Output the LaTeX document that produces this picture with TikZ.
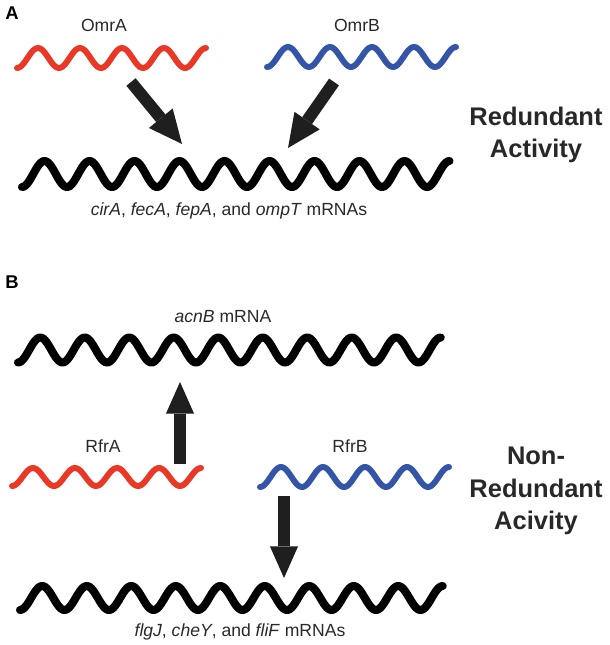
\documentclass[tikz,border=0pt]{standalone}
\usepackage{fontspec}
\setmainfont{Liberation Sans}
\usepackage{tikz}
\usetikzlibrary{arrows.meta, positioning}
\definecolor{srnaRed}{RGB}{234,56,38}
\definecolor{srnaBlue}{RGB}{52,84,168}
\definecolor{labelGray}{RGB}{40,40,40}

\begin{document}
\begin{tikzpicture}[x=0.02cm, y=-0.02cm,
  srna/.style={line width=3.4pt, line cap=round, line join=round},
  mrna/.style={line width=4.6pt, line cap=round, line join=round, black},
  bigarrow/.style={line width=6.8pt, draw=black!88, -{Triangle[length=18pt, width=16pt, line width=0pt]}},
  panel/.style={font=\fontsize{10.5}{12}\selectfont\bfseries, anchor=base},
  rnalabel/.style={font=\fontsize{10}{12}\selectfont, text=labelGray, anchor=base},
  activity/.style={font=\fontsize{14.5}{18.5}\selectfont\bfseries, text=labelGray, align=center}]
\useasboundingbox (0,0) rectangle (609,645);

% Panel A
\node[panel] (panelA) at (12,20) {A};

% OmrA and OmrB strands
\draw[srna, srnaRed] plot[domain=17:206, samples=120, smooth] (\x, {58 + 10*cos(360/42*(\x-17))});
\node[rnalabel] (omrA) at (104,32) {OmrA};
\draw[srna, srnaBlue] plot[domain=267:456, samples=120, smooth] (\x, {57 + 10*cos(360/42*(\x-267))});
\node[rnalabel] (omrB) at (357,32) {OmrB};

% shared target mRNA
\draw[mrna] plot[domain=22:449.5, samples=250, smooth] (\x, {174 + 13*cos(360/45*(\x-22))});
\node[rnalabel] (targetsA) at (229,215) {\textit{cirA}, \textit{fecA}, \textit{fepA}, and \textit{ompT} mRNAs};

% arrows
\coordinate (omrAtail) at (131,82);
\coordinate (omrAtip) at (182,144);
\coordinate (omrBtail) at (334,82);
\coordinate (omrBtip) at (288,148);
\draw[bigarrow, -{Triangle[length=19pt, width=17.5pt, line width=0pt]}] (omrAtail) -- (omrAtip);
\draw[bigarrow, -{Triangle[length=19pt, width=17.5pt, line width=0pt]}] (omrBtail) -- (omrBtip);

\node[activity] (redundant) at (536,135) {Redundant\\Activity};

% Panel B
\node[panel] (panelB) at (12,288) {B};

% acnB mRNA
\draw[mrna] plot[domain=18:440.75, samples=250, smooth] (\x, {350 + 12.5*cos(360/44.5*(\x-18))});
\node[rnalabel] (acnB) at (223,322) {\textit{acnB} mRNA};

% RfrA and RfrB strands
\draw[srna, srnaRed] plot[domain=12:201, samples=120, smooth] (\x, {477 + 9*cos(360/42*(\x-12))});
\node[rnalabel] (rfrA) at (103,452) {RfrA};
\draw[srna, srnaBlue] plot[domain=260:449, samples=120, smooth] (\x, {477 + 10*cos(360/42*(\x-260))});
\node[rnalabel] (rfrB) at (350,452) {RfrB};

% flagellar mRNA
\draw[mrna] plot[domain=20:442.75, samples=250, smooth] (\x, {598 + 12*cos(360/44.5*(\x-20))});
\node[rnalabel] (targetsB) at (240,636) {\textit{flgJ}, \textit{cheY}, and \textit{fliF} mRNAs};

% arrows
\coordinate (rfrAtail) at (180,464);
\coordinate (rfrAtip) at (180,382);
\coordinate (rfrBtail) at (284,496);
\coordinate (rfrBtip) at (284,578);
\draw[bigarrow] (rfrAtail) -- (rfrAtip);
\draw[bigarrow] (rfrBtail) -- (rfrBtip);

\node[activity] (nonredundant) at (536,491) {Non-\\Redundant\\Acivity};
\end{tikzpicture}
\end{document}
